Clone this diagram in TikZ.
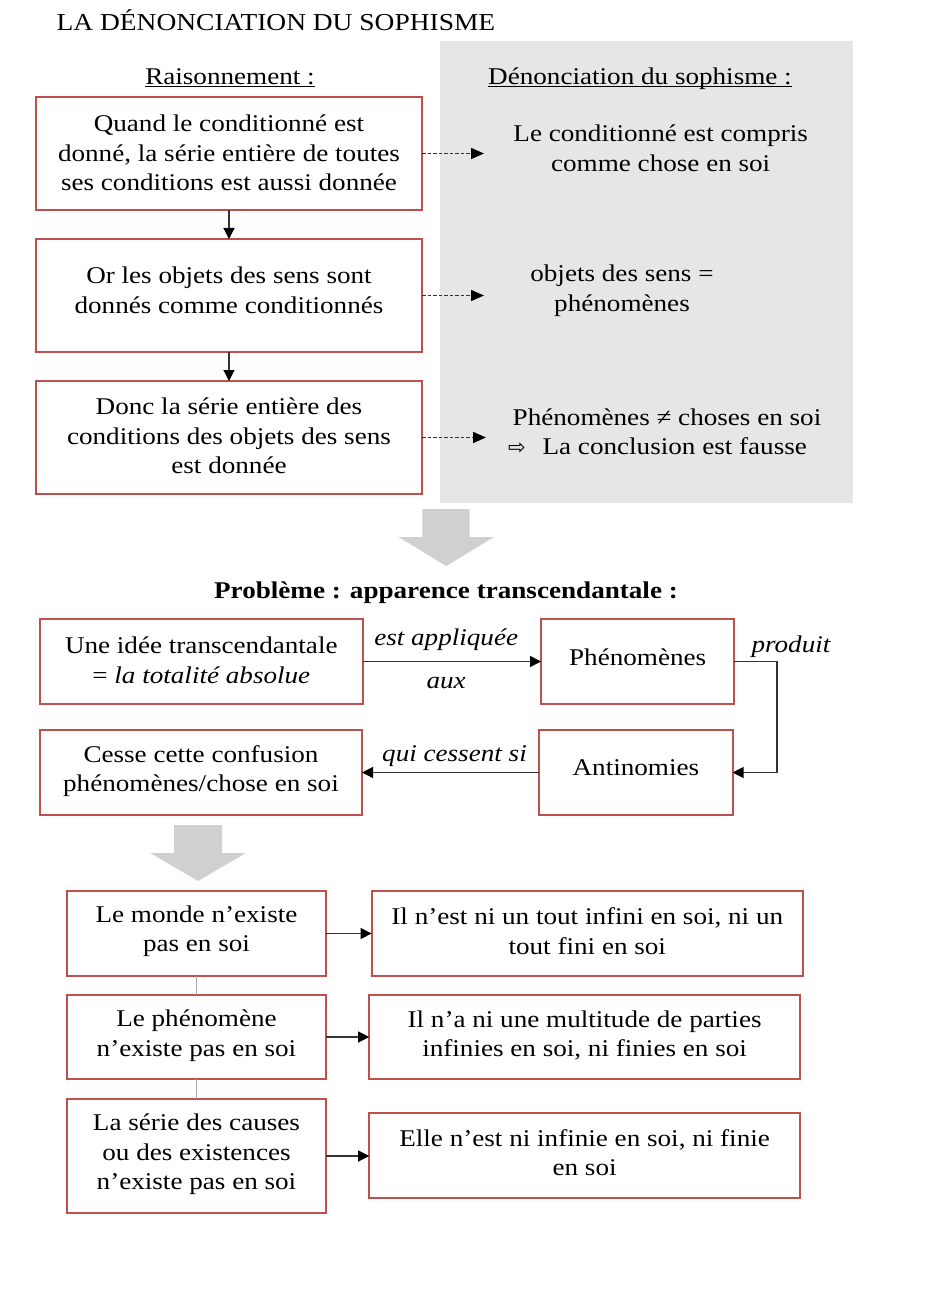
\documentclass[tikz,border=0pt]{standalone}
\usepackage{fontspec}
\setmainfont{Liberation Serif}[FakeStretch=1.13]
\newfontfamily\symf{DejaVu Sans}
\usetikzlibrary{arrows.meta}
\definecolor{boxred}{HTML}{C0504D}
\definecolor{panelgray}{HTML}{E6E6E6}
\definecolor{bigarrow}{HTML}{D0D0D0}
\definecolor{linkgray}{HTML}{A6A6A6}
\newcommand\myul[1]{\setbox0\hbox{#1}\rlap{\rule[-3pt]{\wd0}{0.9pt}}\box0}
\begin{document}
\begin{tikzpicture}[x=1pt,y=-1pt,
  every node/.style={inner sep=0pt, outer sep=0pt},
  box/.style={draw=boxred, line width=1.9pt, fill=white, rectangle},
  txt/.style={font=\fontsize{24}{29.5}\selectfont, align=center},
  lbl/.style={font=\fontsize{24}{29.5}\selectfont\itshape},
  arr/.style={-{Triangle[length=11pt,width=11pt,color=black,fill=black]}, line width=1.2pt, black!80},
  darr/.style={-{Triangle[length=13pt,width=11pt,color=black,fill=black]}, line width=1.6pt, dash pattern=on 3.5pt off 2pt, black!80},
  link/.style={line width=1.2pt, linkgray}]
\useasboundingbox (0,0) rectangle (936,1297);
\fill[white] (0,0) rectangle (936,1297);
% title and panel
\node[font=\fontsize{24.3}{29.5}\selectfont, anchor=base west] (title) at (56.7,31) {LA DÉNONCIATION DU SOPHISME};
\fill[panelgray] (439.6,41) rectangle (853,503);
\node[font=\fontsize{24}{29.5}\selectfont, anchor=base] (h1) at (230,84.3) {\myul{Raisonnement :}};
\node[font=\fontsize{24}{29.5}\selectfont, anchor=base] (h2) at (640,84.3) {\myul{Dénonciation du sophisme :}};
% reasoning boxes
\node[box, minimum width=386.5pt, minimum height=113pt] (b1) at (229,153.5) {};
\node[txt] (b1t) at (229,153) {Quand le conditionné est\\donné, la série entière de toutes\\ses conditions est aussi donnée};
\node[box, minimum width=386.5pt, minimum height=113pt] (b2) at (229,295.5) {};
\node[txt] (b2t) at (229,290.5) {Or les objets des sens sont\\donnés comme conditionnés};
\node[box, minimum width=386.5pt, minimum height=113pt] (b3) at (229,437.5) {};
\node[txt] (b3t) at (229,436) {Donc la série entière des\\conditions des objets des sens\\est donnée};
\draw[arr] (b1) -- (b2);
\draw[arr] (b2) -- (b3);
% denunciation texts
\node[txt] (r1) at (660.7,148.5) {Le conditionné est compris\\comme chose en soi};
\node[txt] (r2) at (622,290.5) {objets des sens =\\phénomènes};
\node[font=\fontsize{24}{29.5}\selectfont, align=left, anchor=west] (r3) at (508,432) {\hspace*{4.7pt}Phénomènes ≠ choses en soi\\{\symf\fontsize{21}{24}\selectfont ⇨}\hspace*{17pt}La conclusion est fausse};
\coordinate (d1) at (484,153.5);
\coordinate (d2) at (484,295.5);
\coordinate (d3) at (486,437.5);
\draw[darr] (b1.east) -- (d1);
\draw[darr] (b2.east) -- (d2);
\draw[darr] (b3.east) -- (d3);
% big arrow 1
\fill[bigarrow] (422.3,509) -- (469.5,509) -- (469.5,537) -- (494,537) -- (446.2,566) -- (398.5,537) -- (422.3,537) -- cycle;
\node[font=\fontsize{24}{29.5}\selectfont\bfseries] (pb) at (446,593) {Problème : apparence transcendantale :};
% middle boxes
\node[box, minimum width=322.7pt, minimum height=85pt] (A) at (201.3,661.5) {};
\node[txt] (At) at (201.3,660.5) {Une idée transcendantale\\= \textit{la totalité absolue}};
\node[box, minimum width=193.3pt, minimum height=85pt] (B) at (637.7,661.5) {};
\node[txt] (Bt) at (637.7,657) {Phénomènes};
\node[box, minimum width=322pt, minimum height=85pt] (C) at (201,772.5) {};
\node[txt] (Ct) at (201,771) {Cesse cette confusion\\phénomènes/chose en soi};
\node[box, minimum width=193.3pt, minimum height=85pt] (D) at (635.9,772.5) {};
\node[txt] (Dt) at (635.9,767.5) {Antinomies};
\draw[arr] (A) -- (B);
\node[lbl] (l1) at (446.2,640) {est appliquée};
\node[lbl] (l2) at (446.2,683) {aux};
\draw[arr] (B.east) -- (777,661.5) |- (D.east);
\node[lbl] (l3) at (791,647) {produit};
\draw[arr] (D) -- (C);
\node[lbl] (l4) at (454.5,756) {qui cessent si};
% big arrow 2
\fill[bigarrow] (174.2,825) -- (222,825) -- (222,853) -- (245.8,853) -- (198,881) -- (150.3,853) -- (174.2,853) -- cycle;
% bottom boxes
\node[box, minimum width=258.3pt, minimum height=85pt] (L1) at (196.5,933.5) {};
\node[txt] (L1t) at (196.5,931) {Le monde n’existe\\pas en soi};
\node[box, minimum width=431.4pt, minimum height=85pt] (R1) at (587.3,933.5) {};
\node[txt] (R1t) at (587.3,931) {Il n’est ni un tout infini en soi, ni un\\tout fini en soi};
\node[box, minimum width=258.3pt, minimum height=84pt] (L2) at (196.5,1037) {};
\node[txt] (L2t) at (196.5,1035.5) {Le phénomène\\n’existe pas en soi};
\node[box, minimum width=430.8pt, minimum height=84pt] (R2) at (584.6,1037) {};
\node[txt] (R2t) at (584.6,1035.5) {Il n’a ni une multitude de parties\\infinies en soi, ni finies en soi};
\node[box, minimum width=258.3pt, minimum height=114pt] (L3) at (196.5,1156) {};
\node[txt] (L3t) at (196.5,1154.5) {La série des causes\\ou des existences\\n’existe pas en soi};
\node[box, minimum width=430.8pt, minimum height=85pt] (R3) at (584.6,1155.5) {};
\node[txt] (R3t) at (584.6,1152.5) {Elle n’est ni infinie en soi, ni finie\\en soi};
\draw[arr] (L1) -- (R1);
\draw[arr] (L2) -- (R2);
\draw[arr] (L3.east) -- (L3.east -| R3.west);
\draw[link] (L1) -- (L2);
\draw[link] (L2) -- (L3);
\end{tikzpicture}
\end{document}
